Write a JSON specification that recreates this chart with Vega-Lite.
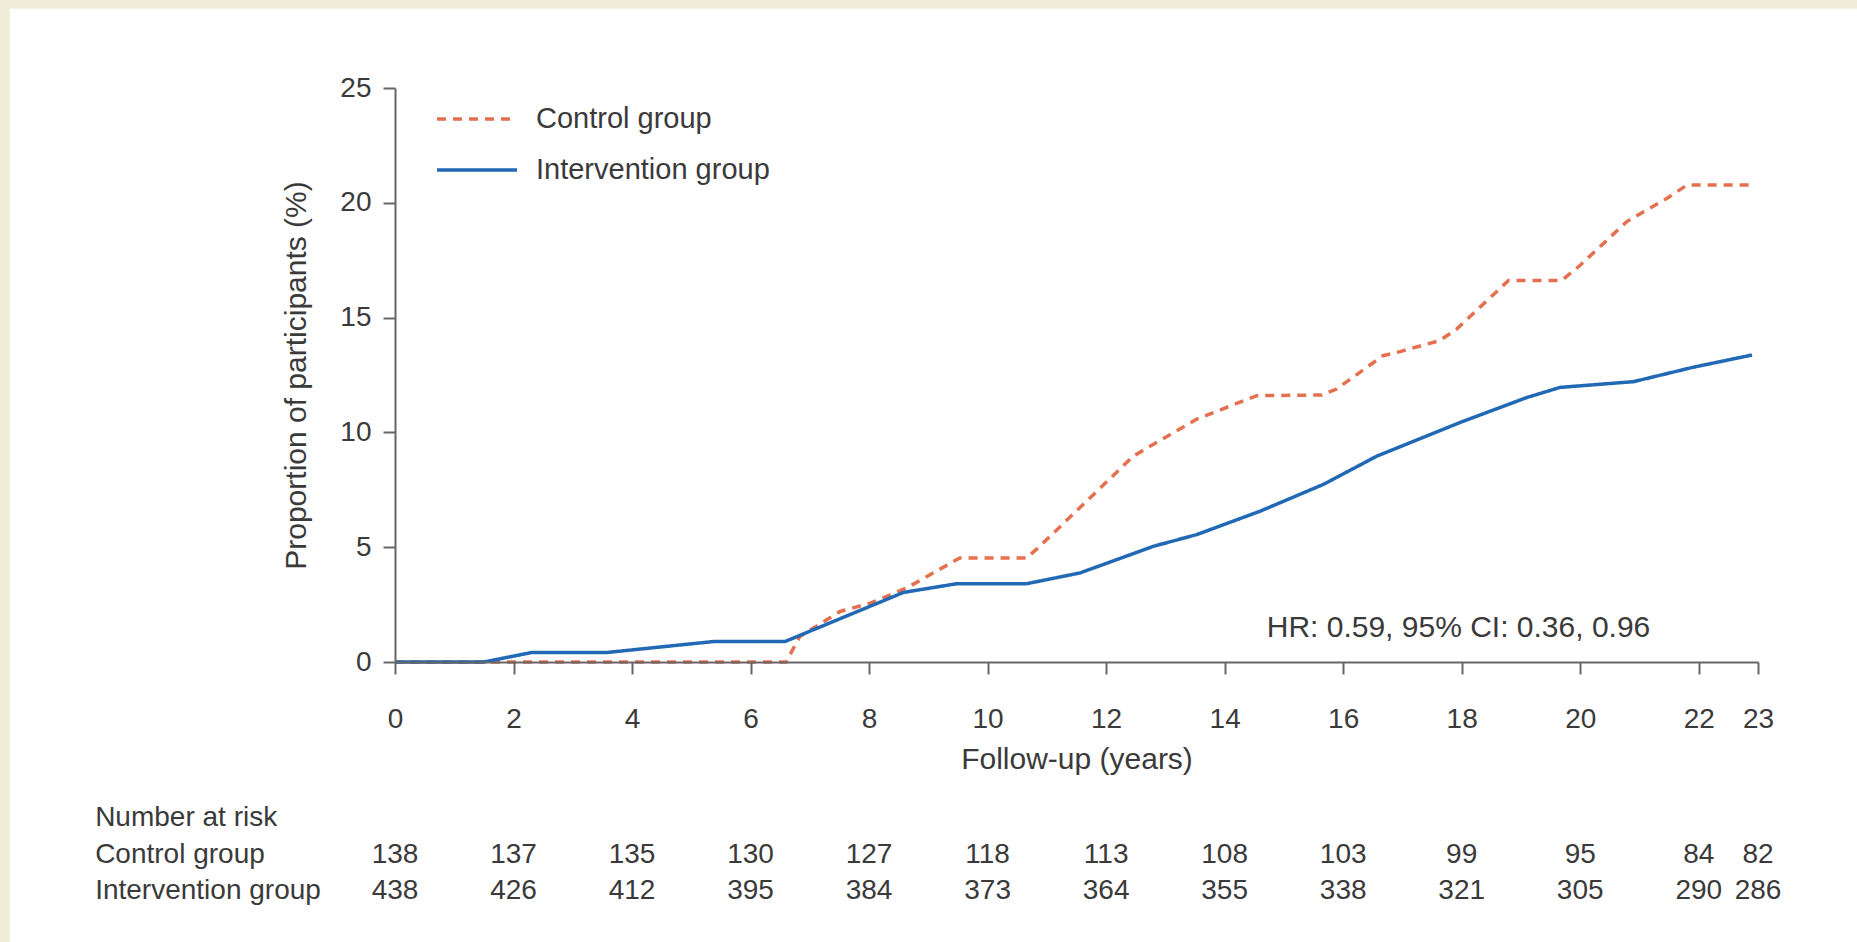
{
  "$schema": "https://vega.github.io/schema/vega-lite/v6.json",
  "width": 1363,
  "height": 574,
  "autosize": {"type": "none"},
  "padding": {"left": 395, "top": 88, "right": 99, "bottom": 280},
  "background": "#efedd7",
  "config": {
    "view": {"stroke": null},
    "font": "Liberation Sans",
    "axis": {
      "grid": false,
      "domainColor": "#666666",
      "domainWidth": 2,
      "tickColor": "#666666",
      "tickWidth": 2,
      "tickSize": 12,
      "labelFont": "Liberation Sans",
      "labelFontSize": 28,
      "labelColor": "#3a3a3a",
      "labelFlush": false,
      "labelOverlap": false,
      "titleFont": "Liberation Sans",
      "titleFontSize": 30,
      "titleFontWeight": "normal",
      "titleColor": "#3a3a3a"
    }
  },
  "datasets": {
    "curves": [
      {"group": "Control group", "year": 0, "pct": 0},
      {"group": "Control group", "year": 6.6, "pct": 0},
      {"group": "Control group", "year": 6.83, "pct": 1.11},
      {"group": "Control group", "year": 7.51, "pct": 2.2},
      {"group": "Control group", "year": 8.02, "pct": 2.56},
      {"group": "Control group", "year": 8.63, "pct": 3.22},
      {"group": "Control group", "year": 9.53, "pct": 4.53},
      {"group": "Control group", "year": 10.66, "pct": 4.53},
      {"group": "Control group", "year": 10.88, "pct": 5.04},
      {"group": "Control group", "year": 12.46, "pct": 8.97},
      {"group": "Control group", "year": 13.53, "pct": 10.58},
      {"group": "Control group", "year": 14.54, "pct": 11.6},
      {"group": "Control group", "year": 15.64, "pct": 11.63},
      {"group": "Control group", "year": 15.89, "pct": 11.89},
      {"group": "Control group", "year": 16.67, "pct": 13.34},
      {"group": "Control group", "year": 16.96, "pct": 13.52},
      {"group": "Control group", "year": 17.63, "pct": 14.0},
      {"group": "Control group", "year": 17.92, "pct": 14.51},
      {"group": "Control group", "year": 18.79, "pct": 16.62},
      {"group": "Control group", "year": 19.69, "pct": 16.62},
      {"group": "Control group", "year": 20.0, "pct": 17.28},
      {"group": "Control group", "year": 20.78, "pct": 19.17},
      {"group": "Control group", "year": 21.46, "pct": 20.19},
      {"group": "Control group", "year": 21.8, "pct": 20.77},
      {"group": "Control group", "year": 22.9, "pct": 20.77},
      {"group": "Intervention group", "year": 0, "pct": 0},
      {"group": "Intervention group", "year": 1.5, "pct": 0},
      {"group": "Intervention group", "year": 2.3, "pct": 0.41},
      {"group": "Intervention group", "year": 3.56, "pct": 0.41},
      {"group": "Intervention group", "year": 5.37, "pct": 0.89},
      {"group": "Intervention group", "year": 6.58, "pct": 0.89},
      {"group": "Intervention group", "year": 8.58, "pct": 3.03},
      {"group": "Intervention group", "year": 9.48, "pct": 3.41},
      {"group": "Intervention group", "year": 10.66, "pct": 3.41},
      {"group": "Intervention group", "year": 11.56, "pct": 3.88},
      {"group": "Intervention group", "year": 12.8, "pct": 5.04},
      {"group": "Intervention group", "year": 13.53, "pct": 5.55},
      {"group": "Intervention group", "year": 14.6, "pct": 6.57},
      {"group": "Intervention group", "year": 15.67, "pct": 7.74},
      {"group": "Intervention group", "year": 16.57, "pct": 8.97},
      {"group": "Intervention group", "year": 17.97, "pct": 10.43},
      {"group": "Intervention group", "year": 19.1, "pct": 11.52},
      {"group": "Intervention group", "year": 19.66, "pct": 11.96},
      {"group": "Intervention group", "year": 20.9, "pct": 12.21},
      {"group": "Intervention group", "year": 21.91, "pct": 12.84},
      {"group": "Intervention group", "year": 22.9, "pct": 13.37}
    ],
    "risk": [
      {"group": "Control group", "year": 0, "n": 138},
      {"group": "Control group", "year": 2, "n": 137},
      {"group": "Control group", "year": 4, "n": 135},
      {"group": "Control group", "year": 6, "n": 130},
      {"group": "Control group", "year": 8, "n": 127},
      {"group": "Control group", "year": 10, "n": 118},
      {"group": "Control group", "year": 12, "n": 113},
      {"group": "Control group", "year": 14, "n": 108},
      {"group": "Control group", "year": 16, "n": 103},
      {"group": "Control group", "year": 18, "n": 99},
      {"group": "Control group", "year": 20, "n": 95},
      {"group": "Control group", "year": 22, "n": 84},
      {"group": "Control group", "year": 23, "n": 82},
      {"group": "Intervention group", "year": 0, "n": 438},
      {"group": "Intervention group", "year": 2, "n": 426},
      {"group": "Intervention group", "year": 4, "n": 412},
      {"group": "Intervention group", "year": 6, "n": 395},
      {"group": "Intervention group", "year": 8, "n": 384},
      {"group": "Intervention group", "year": 10, "n": 373},
      {"group": "Intervention group", "year": 12, "n": 364},
      {"group": "Intervention group", "year": 14, "n": 355},
      {"group": "Intervention group", "year": 16, "n": 338},
      {"group": "Intervention group", "year": 18, "n": 321},
      {"group": "Intervention group", "year": 20, "n": 305},
      {"group": "Intervention group", "year": 22, "n": 290},
      {"group": "Intervention group", "year": 23, "n": 286}
    ]
  },
  "layer": [
    {
      "data": {"values": [{"part": "slide"}]},
      "mark": {"type": "rect", "color": "#ffffff"},
      "encoding": {
        "x": {
          "datum": -6.5,
          "type": "quantitative",
          "scale": {"domain": [0, 23], "nice": false},
          "title": "Follow-up (years)",
          "axis": {
            "zindex": 1,
            "values": [0, 2, 4, 6, 8, 10, 12, 14, 16, 18, 20, 22, 23],
            "format": "d",
            "labelPadding": 31,
            "titlePadding": 11
          }
        },
        "x2": {"datum": 25},
        "y": {
          "datum": 28.45,
          "type": "quantitative",
          "scale": {"domain": [0, 25], "nice": false},
          "title": "Proportion of participants (%)",
          "axis": {
            "zindex": 1,
            "values": [0, 5, 10, 15, 20, 25],
            "format": "d",
            "labelPadding": 12,
            "titlePadding": 28
          }
        },
        "y2": {"datum": -13}
      }
    },
    {
      "data": {"name": "curves"},
      "mark": {"type": "line", "strokeWidth": 3.5, "clip": false},
      "encoding": {
        "x": {
          "field": "year",
          "type": "quantitative",
          "scale": {"domain": [0, 23], "nice": false},
          "title": "Follow-up (years)",
          "axis": {
            "zindex": 1,
            "values": [0, 2, 4, 6, 8, 10, 12, 14, 16, 18, 20, 22, 23],
            "format": "d",
            "labelPadding": 31,
            "titlePadding": 11
          }
        },
        "y": {
          "field": "pct",
          "type": "quantitative",
          "scale": {"domain": [0, 25], "nice": false},
          "title": "Proportion of participants (%)",
          "axis": {
            "zindex": 1,
            "values": [0, 5, 10, 15, 20, 25],
            "format": "d",
            "labelPadding": 12,
            "titlePadding": 28
          }
        },
        "color": {
          "field": "group",
          "type": "nominal",
          "scale": {"domain": ["Control group", "Intervention group"], "range": ["#e4704f", "#2168b5"]},
          "legend": {
            "title": null,
            "orient": "none",
            "legendX": 40,
            "legendY": 16,
            "direction": "vertical",
            "padding": 0,
            "symbolType": "stroke",
            "symbolSize": 6400,
            "symbolStrokeWidth": 3.5,
            "clipHeight": 30,
            "rowPadding": 21,
            "labelOffset": 17,
            "labelFont": "Liberation Sans",
            "labelFontSize": 29,
            "labelColor": "#3a3a3a",
            "labelLimit": 400
          }
        },
        "strokeDash": {
          "field": "group",
          "type": "nominal",
          "scale": {"domain": ["Control group", "Intervention group"], "range": [[9, 7], [1, 0]]},
          "legend": {
            "title": null,
            "orient": "none",
            "legendX": 40,
            "legendY": 16,
            "direction": "vertical",
            "padding": 0,
            "symbolType": "stroke",
            "symbolSize": 6400,
            "symbolStrokeWidth": 3.5,
            "clipHeight": 30,
            "rowPadding": 21,
            "labelOffset": 17,
            "labelFont": "Liberation Sans",
            "labelFontSize": 29,
            "labelColor": "#3a3a3a",
            "labelLimit": 400
          }
        },
        "order": {"field": "year", "type": "quantitative"}
      }
    },
    {
      "data": {"values": [{"note": "HR: 0.59, 95% CI: 0.36, 0.96"}]},
      "mark": {"type": "text", "align": "left", "baseline": "alphabetic", "fontSize": 30, "color": "#3a3a3a", "font": "Liberation Sans"},
      "encoding": {
        "x": {"datum": 14.71, "type": "quantitative"},
        "y": {"datum": 1.09, "type": "quantitative"},
        "text": {"field": "note"}
      }
    },
    {
      "data": {"values": [{"label": "Number at risk"}]},
      "mark": {"type": "text", "align": "left", "baseline": "alphabetic", "fontSize": 28, "color": "#3a3a3a", "font": "Liberation Sans"},
      "encoding": {
        "x": {"datum": -5.06, "type": "quantitative"},
        "y": {"datum": -7.16, "type": "quantitative"},
        "text": {"field": "label"}
      }
    },
    {
      "data": {"values": [{"label": "Control group"}]},
      "mark": {"type": "text", "align": "left", "baseline": "alphabetic", "fontSize": 28, "color": "#3a3a3a", "font": "Liberation Sans"},
      "encoding": {
        "x": {"datum": -5.06, "type": "quantitative"},
        "y": {"datum": -8.77, "type": "quantitative"},
        "text": {"field": "label"}
      }
    },
    {
      "data": {"values": [{"label": "Intervention group"}]},
      "mark": {"type": "text", "align": "left", "baseline": "alphabetic", "fontSize": 28, "color": "#3a3a3a", "font": "Liberation Sans"},
      "encoding": {
        "x": {"datum": -5.06, "type": "quantitative"},
        "y": {"datum": -10.34, "type": "quantitative"},
        "text": {"field": "label"}
      }
    },
    {
      "data": {"name": "risk"},
      "transform": [{"filter": "datum.group === 'Control group'"}],
      "mark": {"type": "text", "align": "center", "baseline": "alphabetic", "fontSize": 28, "color": "#3a3a3a", "font": "Liberation Sans"},
      "encoding": {
        "x": {"field": "year", "type": "quantitative"},
        "y": {"datum": -8.77, "type": "quantitative"},
        "text": {"field": "n", "type": "quantitative"}
      }
    },
    {
      "data": {"name": "risk"},
      "transform": [{"filter": "datum.group === 'Intervention group'"}],
      "mark": {"type": "text", "align": "center", "baseline": "alphabetic", "fontSize": 28, "color": "#3a3a3a", "font": "Liberation Sans"},
      "encoding": {
        "x": {"field": "year", "type": "quantitative"},
        "y": {"datum": -10.34, "type": "quantitative"},
        "text": {"field": "n", "type": "quantitative"}
      }
    }
  ]
}
